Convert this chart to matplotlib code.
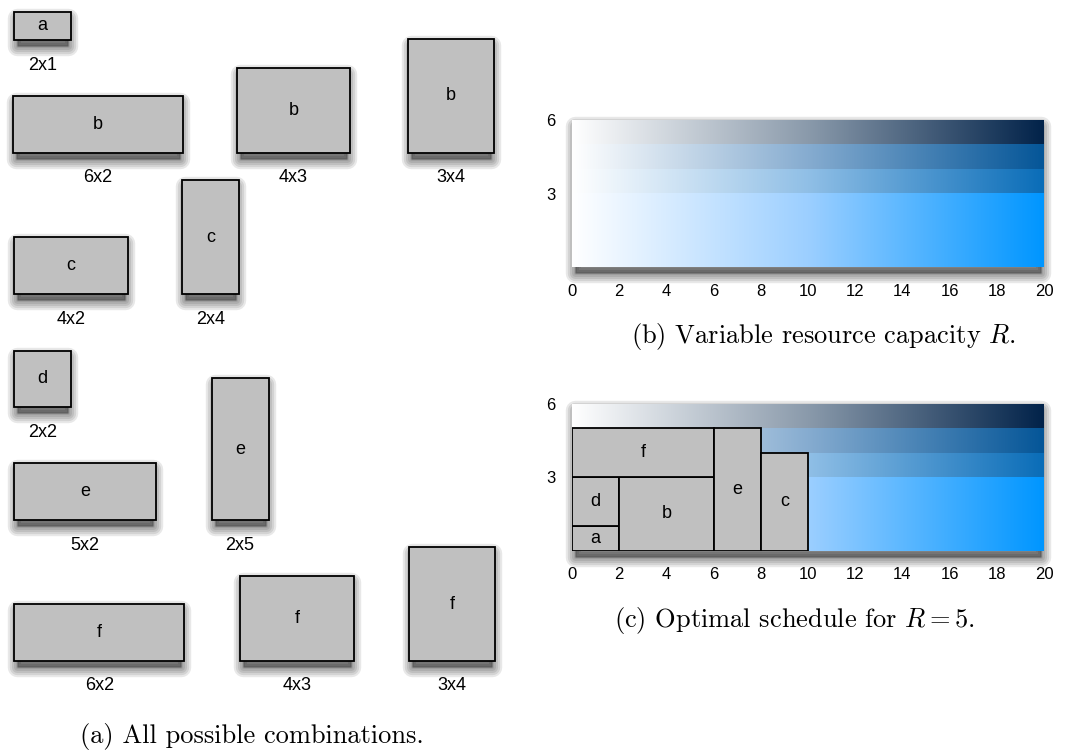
import numpy as np
import matplotlib
matplotlib.use('Agg')
import matplotlib.pyplot as plt
from matplotlib.patches import Rectangle
from matplotlib.colors import LinearSegmentedColormap

plt.rcParams['font.family'] = 'Liberation Sans'
plt.rcParams['mathtext.fontset'] = 'cm'

# (a) all job shapes: name, width x height
job_names = ['a', 'b', 'b', 'b', 'c', 'c', 'd', 'e', 'e', 'f', 'f', 'f']
job_w = [2, 6, 4, 3, 4, 2, 2, 5, 2, 6, 4, 3]
job_h = [1, 2, 3, 4, 2, 4, 2, 2, 5, 2, 3, 4]

# (b) resource capacity bands (bottom, top)
band_lo = [0, 3, 4, 5]
band_hi = [3, 4, 5, 6]
band_mid = ['#9ccfff', '#90bfe6', '#86acd0', '#8a9aab']
band_end = ['#0096ff', '#0a6db8', '#055698', '#02234a']
x_ticks = [0, 2, 4, 6, 8, 10, 12, 14, 16, 18, 20]
y_ticks = [3, 6]

# (c) optimal schedule for R = 5
sched_names = ['a', 'd', 'b', 'f', 'e', 'c']
sched_x = [0, 0, 2, 0, 6, 8]
sched_y = [0, 1, 0, 3, 0, 0]
sched_w = [2, 2, 4, 6, 2, 2]
sched_h = [1, 2, 3, 2, 5, 4]

# layout of the shapes in panel (a), pixels (left edge, bottom edge)
U = 28.4
pos_x = [14, 12.5, 236.7, 408.3, 14, 182, 14, 14, 211.7, 14, 240, 409.3]
pos_bot = [40, 152.7, 152.7, 152.7, 294, 294, 407.3, 520, 520, 661, 661, 661]

GRAY = '#c0c0c0'

fig = plt.figure(figsize=(10.7, 7.52), dpi=100)


def shadow(ax, x, y, w, h, z=0.5):
    # soft drop shadow below the box: layered translucent rects, inset and shifted down
    inv = ax.transData.inverted()
    p0 = ax.transData.transform((x, y))
    p1 = ax.transData.transform((x + w, y + h))
    lo = np.minimum(p0, p1) + [3, -6]
    hi = np.maximum(p0, p1) + [-3, -6]
    (xa, ya), (xb, yb) = inv.transform(lo), inv.transform(hi)
    for lw in [14, 11, 8, 5, 2]:
        ax.add_patch(Rectangle((min(xa, xb), min(ya, yb)), abs(xb - xa), abs(yb - ya),
                               fc=(0, 0, 0, 0.09), ec=(0, 0, 0, 0.09), lw=lw,
                               joinstyle='round', clip_on=False, zorder=z))


# ---------------- (a) ----------------
base = fig.add_axes([0, 0, 1, 1])
base.set_xlim(0, 1070)
base.set_ylim(752, 0)
base.axis('off')

for n, w, h, x0, yb in zip(job_names, job_w, job_h, pos_x, pos_bot):
    W, H = w * U, h * U
    shadow(base, x0, yb - H, W, H)
    base.add_patch(Rectangle((x0, yb - H), W, H, fc=GRAY, ec='black', lw=1.3, zorder=2))
    base.text(x0 + W / 2, yb - H / 2, n, ha='center', va='center', fontsize=13, zorder=3)
    base.text(x0 + W / 2, yb + 25, f'{w}x{h}', ha='center', va='center', fontsize=13)

base.text(252, 737, '(a) All possible combinations.', ha='center', va='center',
          fontsize=19, family='cmr10')
base.text(823, 337, '(b) Variable resource capacity $R$.', ha='center', va='center',
          fontsize=19, family='cmr10')
base.text(795, 620, '(c) Optimal schedule for $R=5$.', ha='center', va='center',
          fontsize=19, family='cmr10')


# ---------------- (b), (c) ----------------
def capacity_axes(rect):
    ax = fig.add_axes(rect)
    ax.patch.set_visible(False)
    ax.set_xlim(0, 20)
    ax.set_ylim(0, 6)
    grad = np.linspace(0, 1, 256)[None, :]
    for lo, hi, mid, end in zip(band_lo, band_hi, band_mid, band_end):
        cm = LinearSegmentedColormap.from_list('band', ['white', mid, end])
        ax.imshow(grad, cmap=cm, extent=(0, 20, lo, hi), aspect='auto',
                  interpolation='bilinear', zorder=1)
    ax.set_xlim(0, 20)
    ax.set_ylim(0, 6)
    ax.set_xticks(x_ticks)
    ax.set_yticks(y_ticks)
    ax.tick_params(length=0, labelsize=12, pad=12)
    for s in ax.spines.values():
        s.set_visible(False)
    return ax


W_ax = (1044 - 572) / 1070
axb = capacity_axes([572 / 1070, 1 - 267 / 752, W_ax, 147 / 752])
axc = capacity_axes([572 / 1070, 1 - 550.5 / 752, W_ax, 146.5 / 752])
for ax in (axb, axc):
    shadow(ax, 0, 0, 20, 6)

for n, x0, y0, w, h in zip(sched_names, sched_x, sched_y, sched_w, sched_h):
    axc.add_patch(Rectangle((x0, y0), w, h, fc=GRAY, ec='black', lw=1.3, zorder=2))
    axc.text(x0 + w / 2, y0 + h / 2, n, ha='center', va='center', fontsize=13, zorder=3)

fig.savefig('out.png', dpi=100)
